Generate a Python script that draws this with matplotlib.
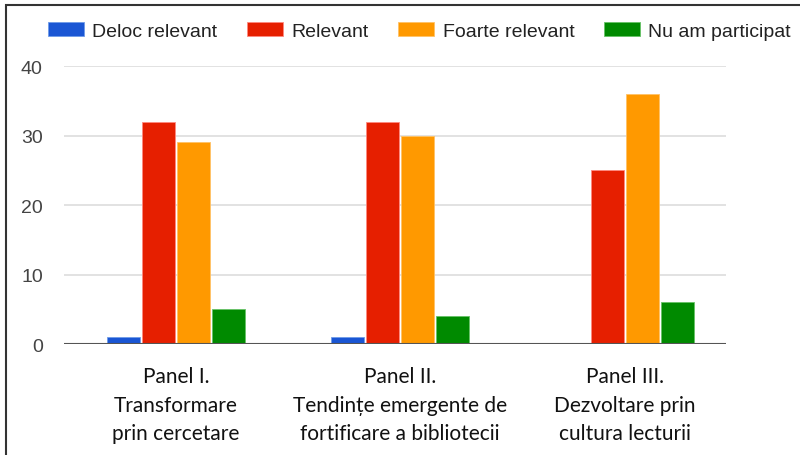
import matplotlib.pyplot as plt
import numpy as np
from matplotlib.patches import Rectangle

categories = ['Panel I.\nTransformare\nprin cercetare',
              'Panel II.\nTendințe emergente de\nfortificare a bibliotecii',
              'Panel III.\nDezvoltare prin\ncultura lecturii']
series = ['Deloc relevant', 'Relevant', 'Foarte relevant', 'Nu am participat']
deloc = [1, 1, 0]
relevant = [32, 32, 25]
foarte = [29, 30, 36]
nu_am = [5, 4, 6]
yticks = [0, 10, 20, 30, 40]

colors = ['#1a56d4', '#e61f00', '#ff9900', '#008a00']
edges = ['#6f9be8', '#ff8a80', '#ffc266', '#66c266']

fig = plt.figure(figsize=(8, 4.56), dpi=100)
ax = fig.add_axes([0.0795, 0.2434, 0.8275, 0.6096])

x = np.arange(len(categories))
w = 0.147
values = [deloc, relevant, foarte, nu_am]
for i, (vals, name) in enumerate(zip(values, series)):
    ax.bar(x + (i - 1.5) * (w + 0.009), vals, w, color=colors[i], label=name,
           edgecolor=edges[i], linewidth=0.6, zorder=3)

ax.set_xlim(-0.5, 2.45)
ax.set_ylim(0, 40)
ax.set_yticks(yticks)
ax.set_yticklabels([str(t) for t in yticks], fontsize=14, color='#444444',
                   family='Liberation Sans')
ax.tick_params(axis='y', length=0, pad=15)
ax.set_xticks(x)
ax.set_xticklabels(categories, fontsize=15, family='Lato', color='#111111',
                   linespacing=1.53)
ax.tick_params(axis='x', length=0, pad=16)
ax.yaxis.grid(True, color='#dddddd', linewidth=1.2, zorder=0)
ax.axhline(0, color='#555555', linewidth=1.5, zorder=4)
for s in ax.spines.values():
    s.set_visible(False)

leg = fig.legend(loc='center left', bbox_to_anchor=(0.05, 0.93), ncol=4,
                 frameon=False, prop={'family': 'Liberation Sans', 'size': 14},
                 handlelength=1.85, handleheight=0.75, handletextpad=0.45,
                 columnspacing=1.5, borderaxespad=0)
for t in leg.get_texts():
    t.set_color('#222222')

fig.patches.append(Rectangle((0.008, -0.02), 1.0, 1.007, transform=fig.transFigure,
                             fill=False, edgecolor='#333333', linewidth=1.5))

fig.savefig('out.png', dpi=100)
